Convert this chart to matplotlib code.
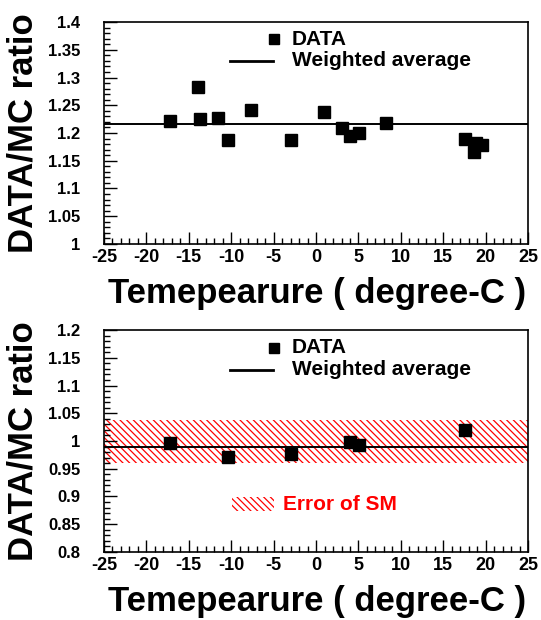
import numpy as np
import matplotlib.pyplot as plt
from matplotlib.patches import Rectangle
from matplotlib.ticker import MultipleLocator

# top panel data
temp_top = [-17.2, -13.9, -13.7, -11.6, -10.4, -7.7, -2.95, 0.9, 3.1, 4.0, 5.1, 8.2, 17.6, 18.6, 18.8, 19.6]
ratio_top = [1.222, 1.2835, 1.225, 1.2265, 1.187, 1.241, 1.187, 1.237, 1.2096, 1.1946, 1.2006, 1.2174, 1.189, 1.166, 1.1826, 1.178]
avg_top = 1.2157

# bottom panel data
temp_bot = [-17.2, -10.4, -2.95, 4.05, 5.1, 17.6]
ratio_bot = [0.9964, 0.9717, 0.976, 0.9975, 0.9928, 1.0198]
avg_bot = 0.990
sm_lo, sm_hi = 0.960, 1.038

plt.rcParams['font.family'] = ['Liberation Sans', 'DejaVu Sans']
plt.rcParams['font.weight'] = 'bold'
plt.rcParams['hatch.linewidth'] = 0.9
plt.rcParams['axes.unicode_minus'] = False

fig = plt.figure(figsize=(5.41, 6.2), dpi=100)
ax1 = fig.add_axes([0.1922, 0.6065, 0.784, 0.358])
ax2 = fig.add_axes([0.1922, 0.1097, 0.784, 0.358])


def style(ax, ylo, yhi):
    ax.set_xlim(-25, 25)
    ax.set_ylim(ylo, yhi)
    ax.xaxis.set_major_locator(MultipleLocator(5))
    ax.xaxis.set_minor_locator(MultipleLocator(1))
    ax.yaxis.set_major_locator(MultipleLocator(0.05))
    ax.yaxis.set_minor_locator(MultipleLocator(0.01))
    ax.yaxis.set_major_formatter(plt.FuncFormatter(lambda v, p: ('%.2f' % v).rstrip('0').rstrip('.')))
    ax.xaxis.set_major_formatter(plt.FuncFormatter(lambda v, p: '%d' % round(v)))
    ax.tick_params(which='both', direction='in', top=False, right=False, width=1)
    ax.tick_params(which='major', length=9)
    ax.tick_params(which='minor', length=4.5)
    ax.tick_params(axis='y', which='major', pad=17, labelsize=12)
    ax.tick_params(axis='x', which='major', pad=3.5, labelsize=13)
    for lab in ax.get_xticklabels() + ax.get_yticklabels():
        lab.set_fontweight('bold')
    for s in ax.spines.values():
        s.set_linewidth(1.2)
    ax.set_xlabel('Temepearure ( degree-C )', fontsize=25, fontweight='bold')
    ax.set_ylabel('DATA/MC ratio', fontsize=25, fontweight='bold')
    ax.xaxis.set_label_coords(0.502, -0.147)
    ax.yaxis.set_label_coords(-0.151, 0.5)


style(ax1, 1.0, 1.4)
ax1.axhline(avg_top, color='black', lw=1.4)
ax1.plot(temp_top, ratio_top, 's', color='black', ms=8.5)

style(ax2, 0.8, 1.2)
ax2.add_patch(Rectangle((-25, sm_lo), 50, sm_hi - sm_lo, facecolor='none',
                        edgecolor='red', hatch='\\\\\\\\\\', lw=0))
ax2.axhline(avg_bot, color='black', lw=1.4)
ax2.plot(temp_bot, ratio_bot, 's', color='black', ms=8.5)

# legends drawn manually, ROOT-style
for ax, ym, yl in ((ax1, 0.923, 0.826), (ax2, 0.920, 0.820)):
    ax.plot([0.401], [ym], 's', color='black', ms=7.5, transform=ax.transAxes, clip_on=False)
    ax.text(0.443, ym, 'DATA', transform=ax.transAxes, fontsize=15, fontweight='bold', va='center')
    ax.plot([0.297, 0.399], [yl, yl], color='black', lw=2, transform=ax.transAxes)
    ax.text(0.443, yl, 'Weighted average', transform=ax.transAxes, fontsize=15, fontweight='bold', va='center')

ax2.add_patch(Rectangle((0.302, 0.185), 0.099, 0.063, transform=ax2.transAxes, facecolor='none',
                        edgecolor='red', hatch='\\\\\\\\\\', lw=0))
ax2.text(0.422, 0.216, 'Error of SM', transform=ax2.transAxes, fontsize=15, fontweight='bold',
         va='center', color='red')

fig.savefig('out.png', dpi=100)
